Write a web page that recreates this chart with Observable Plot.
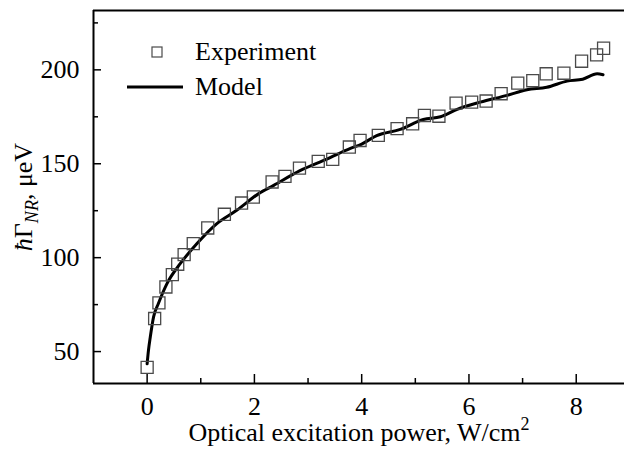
<!DOCTYPE html>
<html>
<head>
<meta charset="utf-8">
<script src="https://cdn.jsdelivr.net/npm/d3@7"></script>
<script src="https://cdn.jsdelivr.net/npm/@observablehq/plot@0.6"></script>
<style>
  html, body { margin: 0; padding: 0; background: #fff; }
  #chart { width: 624px; height: 453px; }
  #chart svg text { font-family: 'Liberation Serif', 'Times New Roman', serif; }
</style>
</head>
<body>
<div id="chart"></div>
<script>
// Experiment (squares): power (W/cm^2), ħΓ_NR (µeV)
const expPower = [0.0, 0.14, 0.22, 0.35, 0.47, 0.57, 0.69, 0.86, 1.13, 1.44, 1.76, 1.98, 2.33, 2.57, 2.84, 3.19, 3.46, 3.77, 3.97, 4.31, 4.66, 4.95, 5.17, 5.44, 5.76, 6.05, 6.32, 6.60, 6.91, 7.19, 7.44, 7.77, 8.10, 8.38, 8.51];
const expGamma = [41.6, 67.6, 75.9, 84.4, 91.0, 96.5, 101.6, 107.5, 115.8, 123.1, 129.1, 132.3, 140.3, 143.3, 147.7, 151.3, 152.3, 158.9, 162.4, 165.1, 168.7, 171.3, 175.7, 175.3, 182.3, 182.8, 183.4, 187.3, 192.9, 194.2, 197.9, 198.2, 204.6, 208.0, 211.5];
// Model (line)
const modelPower = [0.0, 0.025, 0.06, 0.12, 0.21, 0.37, 0.62, 0.93, 1.30, 1.67, 2.08, 2.36, 2.85, 3.35, 3.79, 4.0, 4.28, 4.72, 5.15, 5.47, 5.78, 6.21, 6.71, 7.08, 7.45, 7.83, 8.12, 8.39, 8.50];
const modelGamma = [43.5, 50.7, 58.0, 68.5, 75.6, 86.2, 96.9, 107.5, 118.1, 125.2, 134.1, 138.5, 146.3, 152.5, 158.2, 160.5, 165.0, 168.3, 173.6, 175.0, 179.0, 182.8, 186.4, 189.4, 190.7, 194.0, 195.0, 197.9, 197.4];

const xTicks = [0, 2, 4, 6, 8];
const xMinorTicks = [1, 3, 5, 7];
const yTicks = [50, 100, 150, 200];
const yMinorTicks = [75, 125, 175, 225];
const xDomain = [-1, 8.9];
const yDomain = [33, 231.6];
const legendLabels = ["Experiment", "Model"];

const expData = expPower.map((x, i) => ({x, y: expGamma[i]}));
const modelData = modelPower.map((x, i) => ({x, y: modelGamma[i]}));

const W = 624, H = 453;
const font = "'Liberation Serif', 'Times New Roman', serif";

const plot = Plot.plot({
  width: W,
  height: H,
  marginLeft: 93,
  marginRight: 0,
  marginTop: 10,
  marginBottom: 70,
  style: {fontFamily: font, fontSize: "26px", color: "black", background: "white", overflow: "visible"},
  x: {domain: xDomain},
  y: {domain: yDomain},
  marks: [
    Plot.ruleX([xDomain[0]], {stroke: "black", strokeWidth: 2}),
    Plot.ruleY([yDomain[0]], {stroke: "black", strokeWidth: 2}),
    Plot.ruleY([yDomain[1]], {stroke: "black", strokeWidth: 2}),
    Plot.axisY({ticks: yTicks, tickSize: -8, tickPadding: 22, label: null, strokeWidth: 1.5, tickFormat: d => String(d)}),
    Plot.axisY({ticks: yMinorTicks, tickSize: -5, tickPadding: 0, label: null, strokeWidth: 1.5, tickFormat: () => null}),
    Plot.axisX({ticks: xTicks, tickSize: -9, tickPadding: 22, label: null, strokeWidth: 1.5, tickFormat: d => String(d)}),
    Plot.axisX({ticks: xMinorTicks, tickSize: -5, tickPadding: 0, label: null, strokeWidth: 1.5, tickFormat: () => null}),
    Plot.line(modelData, {x: "x", y: "y", stroke: "black", strokeWidth: 3, curve: "monotone-x"}),
    Plot.dot(expData, {x: "x", y: "y", symbol: "square", r: 6.8, stroke: "#4a4a4a", strokeWidth: 1.3, fill: "none"})
  ]
});

document.getElementById("chart").appendChild(plot);

const svg = d3.select(plot);

// Y axis label: ħΓ_NR, µeV
const yl = svg.append("text")
  .attr("transform", `translate(32, 197) rotate(-90)`)
  .attr("text-anchor", "middle")
  .attr("font-family", font)
  .attr("font-size", 26)
  .attr("fill", "black");
yl.append("tspan").attr("font-style", "italic").text("ħ");
yl.append("tspan").text("Γ");
yl.append("tspan").attr("font-style", "italic").attr("font-size", 18).attr("dy", 6).text("NR");
yl.append("tspan").attr("dy", -6).text(", μeV");

// X axis label
const xl = svg.append("text")
  .attr("x", 359).attr("y", 441)
  .attr("text-anchor", "middle")
  .attr("font-family", font)
  .attr("font-size", 26)
  .attr("fill", "black");
xl.append("tspan").text("Optical excitation power, W/cm");
xl.append("tspan").attr("font-size", 18).attr("dy", -11).text("2");

// Legend
const lg = svg.append("g").attr("font-family", font).attr("font-size", 26).attr("fill", "black").attr("text-anchor", "start");
lg.append("rect").attr("x", 152).attr("y", 47).attr("width", 10).attr("height", 10)
  .attr("fill", "none").attr("stroke", "#4a4a4a").attr("stroke-width", 1.2);
lg.append("text").attr("x", 195).attr("y", 60).attr("text-anchor", "start").text(legendLabels[0]);
lg.append("line").attr("x1", 127).attr("x2", 183).attr("y1", 87).attr("y2", 87)
  .attr("stroke", "black").attr("stroke-width", 3);
lg.append("text").attr("x", 195).attr("y", 95).attr("text-anchor", "start").text(legendLabels[1]);
</script>
</body>
</html>
